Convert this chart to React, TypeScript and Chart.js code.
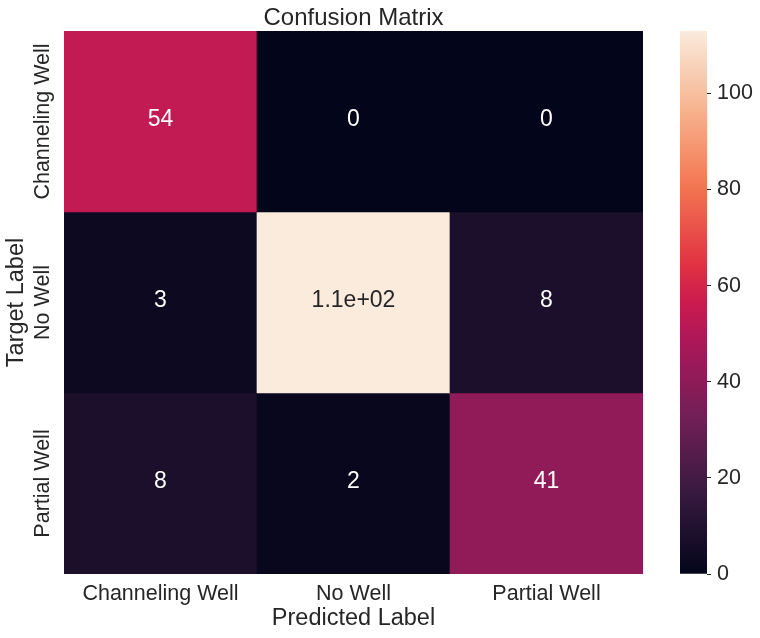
import React, { useEffect, useRef } from "react";
import { Chart, registerables } from "chart.js";

Chart.register(...registerables);

// ---- data ----
const categories = ["Channeling Well", "No Well", "Partial Well"];
const rowChannelingWell = [54, 0, 0];
const rowNoWell = [3, 113, 8];
const rowPartialWell = [8, 2, 41];
const matrix = [rowChannelingWell, rowNoWell, rowPartialWell];
const colorbarTicks = [0, 20, 40, 60, 80, 100];
const titleText = "Confusion Matrix";
const xTitle = "Predicted Label";
const yTitle = "Target Label";

// ---- style ----
const FONT = '"Liberation Sans", Arial, Helvetica, sans-serif';
const TEXT = "#262626";
const W = 760;
const H = 638;
const PLOT = { left: 64, top: 31, right: 643, bottom: 574 };
const CBAR = { left: 680, right: 707 };

const rocketStops: [number, string][] = [
  [0, "#03051a"],
  [1 / 7, "#35193e"],
  [2 / 7, "#701f57"],
  [3 / 7, "#ad1759"],
  [0.5, "#cb1b4f"],
  [4 / 7, "#e13342"],
  [5 / 7, "#f37651"],
  [6 / 7, "#f6b48f"],
  [1, "#faebdd"],
];

function hexToRgb(h: string): number[] {
  const n = parseInt(h.slice(1), 16);
  return [(n >> 16) & 255, (n >> 8) & 255, n & 255];
}

function rocketRgb(t: number): number[] {
  const x = Math.max(0, Math.min(1, t));
  for (let i = 0; i < rocketStops.length - 1; i++) {
    const [p0, c0] = rocketStops[i];
    const [p1, c1] = rocketStops[i + 1];
    if (x <= p1) {
      const f = (x - p0) / (p1 - p0);
      const a = hexToRgb(c0);
      const b = hexToRgb(c1);
      return a.map((v, k) => Math.round(v + (b[k] - v) * f));
    }
  }
  return hexToRgb(rocketStops[rocketStops.length - 1][1]);
}

function rgbStr(c: number[]) {
  return `rgb(${c[0]},${c[1]},${c[2]})`;
}

function luminance(c: number[]) {
  const lin = c.map((v) => {
    const s = v / 255;
    return s <= 0.03928 ? s / 12.92 : Math.pow((s + 0.055) / 1.055, 2.4);
  });
  return 0.2126 * lin[0] + 0.7152 * lin[1] + 0.0722 * lin[2];
}

function fmt2g(v: number): string {
  if (v === 0) return "0";
  const e = Math.floor(Math.log10(Math.abs(v)));
  if (e >= 2 || e < -4) {
    return v.toExponential(1).replace(/e([+-])(\d)$/, "e$10$2");
  }
  return String(parseFloat(v.toPrecision(2)));
}

const vmax = Math.max(...matrix.flat());
const vmin = Math.min(...matrix.flat());

export default function App() {
  const heatRef = useRef<HTMLCanvasElement>(null);
  const cbarRef = useRef<HTMLCanvasElement>(null);

  useEffect(() => {
    if (!heatRef.current || !cbarRef.current) return;

    const annotPlugin = {
      id: "annot",
      afterDatasetsDraw(chart: any) {
        const ctx = chart.ctx;
        ctx.save();
        ctx.font = `23px ${FONT}`;
        ctx.textAlign = "center";
        ctx.textBaseline = "middle";
        matrix.forEach((row, r) => {
          const meta = chart.getDatasetMeta(r);
          row.forEach((v, c) => {
            const el: any = meta.data[c];
            const rgb = rocketRgb((v - vmin) / (vmax - vmin));
            ctx.fillStyle = luminance(rgb) > 0.408 ? TEXT : "#ffffff";
            ctx.fillText(fmt2g(v), el.x, (el.y + el.base) / 2 - 2);
          });
        });
        ctx.restore();
      },
      afterDraw(chart: any) {
        const ctx = chart.ctx;
        const area = chart.chartArea;
        const x = chart.scales.x;
        const y = chart.scales.y;
        const cx = (area.left + area.right) / 2;
        const cy = (area.top + area.bottom) / 2;
        ctx.save();
        ctx.fillStyle = TEXT;
        ctx.textAlign = "center";
        ctx.textBaseline = "alphabetic";
        ctx.font = `24px ${FONT}`;
        ctx.fillText(titleText, cx, 25);
        ctx.font = `23.5px ${FONT}`;
        ctx.fillText(xTitle, cx, 625);
        // y title
        ctx.save();
        ctx.translate(23, cy);
        ctx.rotate(-Math.PI / 2);
        ctx.fillText(yTitle, 0, 0);
        ctx.restore();
        // tick labels
        ctx.font = `21.5px ${FONT}`;
        categories.forEach((lab, i) => {
          ctx.fillText(lab, x.getPixelForValue(i), 600);
          ctx.save();
          ctx.translate(49, y.getPixelForValue(i + 0.5));
          ctx.rotate(-Math.PI / 2);
          ctx.fillText(lab, 0, 0);
          ctx.restore();
        });
        ctx.restore();
      },
    };

    const heat = new Chart(heatRef.current, {
      type: "bar",
      data: {
        labels: categories,
        datasets: matrix.map((row, r) => ({
          label: categories[r],
          data: row.map(() => 1),
          backgroundColor: row.map((v) => rgbStr(rocketRgb((v - vmin) / (vmax - vmin)))),
          borderWidth: 0,
          barPercentage: 1,
          categoryPercentage: 1,
          stack: "m",
        })),
      },
      options: {
        animation: false,
        responsive: false,
        devicePixelRatio: 1,
        layout: {
          padding: { left: PLOT.left, top: PLOT.top, right: W - PLOT.right, bottom: 0 },
        },
        plugins: { legend: { display: false }, tooltip: { enabled: false }, title: { display: false } },
        scales: {
          x: {
            stacked: true,
            grid: { display: false },
            border: { display: false },
            ticks: { display: false },
            afterFit(scale: any) {
              scale.height = H - PLOT.bottom;
            },
          },
          y: {
            display: false,
            stacked: true,
            reverse: true,
            min: 0,
            max: categories.length,
          },
        },
      },
      plugins: [annotPlugin],
    } as any);

    const cbar = new Chart(cbarRef.current, {
      type: "bar",
      data: {
        labels: [""],
        datasets: [
          {
            data: [vmax],
            borderWidth: 0,
            barPercentage: 1,
            categoryPercentage: 1,
            backgroundColor: (c: any) => {
              const area = c.chart.chartArea;
              if (!area) return "#000";
              const g = c.chart.ctx.createLinearGradient(0, area.bottom, 0, area.top);
              rocketStops.forEach(([p, col]) => g.addColorStop(p, col));
              return g;
            },
          },
        ],
      },
      options: {
        animation: false,
        responsive: false,
        devicePixelRatio: 1,
        layout: { padding: { left: CBAR.left, top: PLOT.top, right: 0, bottom: H - PLOT.bottom } },
        plugins: { legend: { display: false }, tooltip: { enabled: false } },
        scales: {
          x: { display: false },
          y: {
            position: "right",
            min: vmin,
            max: vmax,
            border: { display: false },
            grid: { drawOnChartArea: false, drawTicks: true, tickLength: 4, color: TEXT, lineWidth: 1 },
            afterBuildTicks(scale: any) {
              scale.ticks = colorbarTicks.map((v) => ({ value: v }));
            },
            ticks: { color: TEXT, font: { family: FONT, size: 21.5 }, padding: 6 },
            afterFit(scale: any) {
              scale.width = W - CBAR.right;
            },
          },
        },
      },
    } as any);

    return () => {
      heat.destroy();
      cbar.destroy();
    };
  }, []);

  return (
    <div style={{ position: "absolute", left: 0, top: 0, width: W, height: H, background: "#fff" }}>
      <canvas ref={heatRef} width={W} height={H} style={{ position: "absolute", left: 0, top: 0 }} />
      <canvas ref={cbarRef} width={W} height={H} style={{ position: "absolute", left: 0, top: 0 }} />
    </div>
  );
}
